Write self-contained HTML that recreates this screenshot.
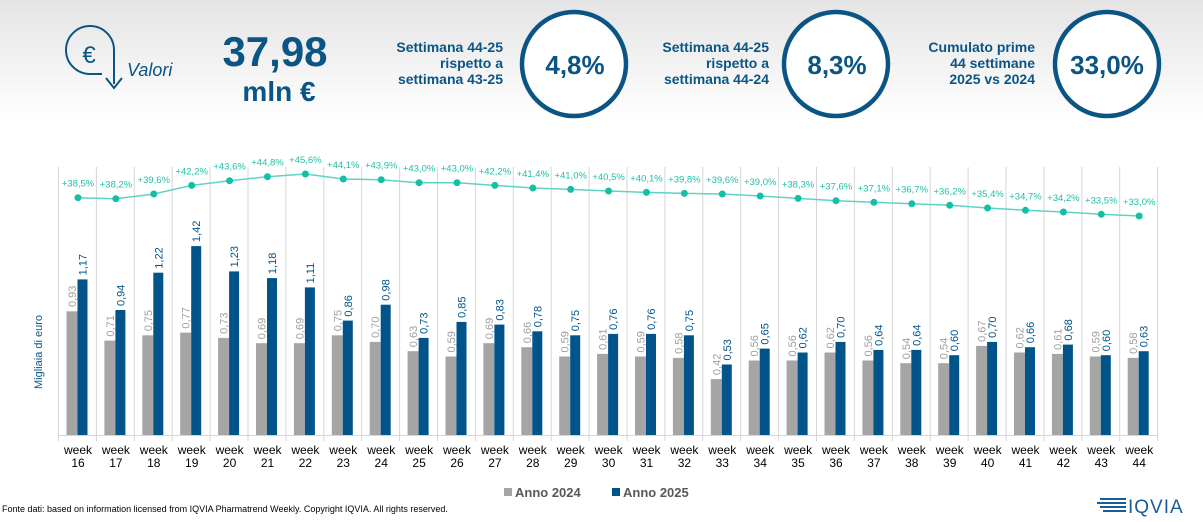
<!DOCTYPE html>
<html><head><meta charset="utf-8"><style>
html,body{margin:0;padding:0;background:#fff;}
body{width:1203px;height:517px;overflow:hidden;font-family:"Liberation Sans",sans-serif;}
</style></head><body>
<svg width="1203" height="517" viewBox="0 0 1203 517" xmlns="http://www.w3.org/2000/svg" font-family="Liberation Sans, sans-serif">
<defs><linearGradient id="hg" x1="0" y1="0" x2="0" y2="1"><stop offset="0" stop-color="#e4e4e4"/><stop offset="1" stop-color="#ffffff"/></linearGradient></defs>
<rect x="0" y="0" width="1203" height="120" fill="url(#hg)"/>
<g fill="none" stroke="#0b5585" stroke-width="2">
<path d="M114 84 L114 50 A24 24 0 1 0 90 74 L102 74"/>
<path d="M106 78 L114 88 L122 78"/>
</g>
<text x="89" y="63" font-size="24" fill="#0b5585" text-anchor="middle">€</text>
<text x="127" y="76" font-size="18" font-style="italic" fill="#0b5585">Valori</text>
<text x="275" y="66" font-size="42" font-weight="bold" fill="#0b5585" text-anchor="middle">37,98</text>
<text x="279" y="101" font-size="28" font-weight="bold" fill="#0b5585" text-anchor="middle">mln €</text>
<g font-size="14" font-weight="bold" fill="#0b5585" text-anchor="end">
<text x="503" y="52">Settimana 44-25</text><text x="503" y="68">rispetto a</text><text x="503" y="84">settimana 43-25</text>
<text x="769" y="52">Settimana 44-25</text><text x="769" y="68">rispetto a</text><text x="769" y="84">settimana 44-24</text>
<text x="1035" y="52">Cumulato prime</text><text x="1035" y="68">44 settimane</text><text x="1035" y="84">2025 vs 2024</text>
</g>
<g fill="#fff" stroke="#0b5585" stroke-width="4.5">
<circle cx="574" cy="64" r="52"/><circle cx="836" cy="64" r="52"/><circle cx="1107" cy="64" r="52"/>
</g>
<g font-size="26" font-weight="bold" fill="#0b5585" text-anchor="middle">
<text x="575" y="74">4,8%</text><text x="837" y="74">8,3%</text><text x="1107" y="74">33,0%</text>
</g>
<g stroke="#d6d6d6" stroke-width="1">
<path d="M58.5 167V441M96.4 167V441M134.3 167V441M172.2 167V441M210.1 167V441M248 167V441M285.9 167V441M323.8 167V441M361.7 167V441M399.6 167V441M437.5 167V441M475.4 167V441M513.3 167V441M551.2 167V441M589.1 167V441M627 167V441M664.9 167V441M702.8 167V441M740.7 167V441M778.6 167V441M816.5 167V441M854.4 167V441M892.3 167V441M930.2 167V441M968.1 167V441M1006 167V441M1043.9 167V441M1081.8 167V441M1119.7 167V441M1157.6 167V441"/>
<path d="M58.5 435.5H1157.6"/>
</g>
<g fill="#a5a5a5">
<rect x="66.5" y="311.3" width="11" height="123.7"/><rect x="104.4" y="340.6" width="11" height="94.4"/><rect x="142.3" y="335.3" width="11" height="99.7"/><rect x="180.2" y="332.6" width="11" height="102.4"/><rect x="218.1" y="337.9" width="11" height="97.1"/><rect x="256" y="343.2" width="11" height="91.8"/><rect x="293.9" y="343.2" width="11" height="91.8"/><rect x="331.8" y="335.3" width="11" height="99.7"/><rect x="369.7" y="341.9" width="11" height="93.1"/><rect x="407.6" y="351.2" width="11" height="83.8"/><rect x="445.5" y="356.5" width="11" height="78.5"/><rect x="483.4" y="343.2" width="11" height="91.8"/><rect x="521.3" y="347.2" width="11" height="87.8"/><rect x="559.2" y="356.5" width="11" height="78.5"/><rect x="597.1" y="353.9" width="11" height="81.1"/><rect x="635" y="356.5" width="11" height="78.5"/><rect x="672.9" y="357.9" width="11" height="77.1"/><rect x="710.8" y="379.1" width="11" height="55.9"/><rect x="748.7" y="360.5" width="11" height="74.5"/><rect x="786.6" y="360.5" width="11" height="74.5"/><rect x="824.5" y="352.5" width="11" height="82.5"/><rect x="862.4" y="360.5" width="11" height="74.5"/><rect x="900.3" y="363.2" width="11" height="71.8"/><rect x="938.2" y="363.2" width="11" height="71.8"/><rect x="976.1" y="345.9" width="11" height="89.1"/><rect x="1014" y="352.5" width="11" height="82.5"/><rect x="1051.9" y="353.9" width="11" height="81.1"/><rect x="1089.8" y="356.5" width="11" height="78.5"/><rect x="1127.7" y="357.9" width="11" height="77.1"/>
</g>
<g fill="#00548a">
<rect x="77.5" y="279.4" width="10" height="155.6"/><rect x="115.4" y="310" width="10" height="125"/><rect x="153.3" y="272.7" width="10" height="162.3"/><rect x="191.2" y="246.1" width="10" height="188.9"/><rect x="229.1" y="271.4" width="10" height="163.6"/><rect x="267" y="278.1" width="10" height="156.9"/><rect x="304.9" y="287.4" width="10" height="147.6"/><rect x="342.8" y="320.6" width="10" height="114.4"/><rect x="380.7" y="304.7" width="10" height="130.3"/><rect x="418.6" y="337.9" width="10" height="97.1"/><rect x="456.5" y="321.9" width="10" height="113.1"/><rect x="494.4" y="324.6" width="10" height="110.4"/><rect x="532.3" y="331.3" width="10" height="103.7"/><rect x="570.2" y="335.3" width="10" height="99.7"/><rect x="608.1" y="333.9" width="10" height="101.1"/><rect x="646" y="333.9" width="10" height="101.1"/><rect x="683.9" y="335.3" width="10" height="99.7"/><rect x="721.8" y="364.5" width="10" height="70.5"/><rect x="759.7" y="348.6" width="10" height="86.4"/><rect x="797.6" y="352.5" width="10" height="82.5"/><rect x="835.5" y="341.9" width="10" height="93.1"/><rect x="873.4" y="349.9" width="10" height="85.1"/><rect x="911.3" y="349.9" width="10" height="85.1"/><rect x="949.2" y="355.2" width="10" height="79.8"/><rect x="987.1" y="341.9" width="10" height="93.1"/><rect x="1025" y="347.2" width="10" height="87.8"/><rect x="1062.9" y="344.6" width="10" height="90.4"/><rect x="1100.8" y="355.2" width="10" height="79.8"/><rect x="1138.7" y="351.2" width="10" height="83.8"/>
</g>
<g font-size="11" fill="#a0a0a0">
<text transform="translate(76,307) rotate(-90)">0,93</text><text transform="translate(113.9,336.6) rotate(-90)">0,71</text><text transform="translate(151.8,331.3) rotate(-90)">0,75</text><text transform="translate(189.7,328.6) rotate(-90)">0,77</text><text transform="translate(227.6,333.9) rotate(-90)">0,73</text><text transform="translate(265.5,339.2) rotate(-90)">0,69</text><text transform="translate(303.4,339.2) rotate(-90)">0,69</text><text transform="translate(341.3,331.3) rotate(-90)">0,75</text><text transform="translate(379.2,337.9) rotate(-90)">0,70</text><text transform="translate(417.1,347.2) rotate(-90)">0,63</text><text transform="translate(455,352.5) rotate(-90)">0,59</text><text transform="translate(492.9,339.2) rotate(-90)">0,69</text><text transform="translate(530.8,343.2) rotate(-90)">0,66</text><text transform="translate(568.7,352.5) rotate(-90)">0,59</text><text transform="translate(606.6,349.9) rotate(-90)">0,61</text><text transform="translate(644.5,352.5) rotate(-90)">0,59</text><text transform="translate(682.4,353.9) rotate(-90)">0,58</text><text transform="translate(720.3,375.1) rotate(-90)">0,42</text><text transform="translate(758.2,356.5) rotate(-90)">0,56</text><text transform="translate(796.1,356.5) rotate(-90)">0,56</text><text transform="translate(834,348.5) rotate(-90)">0,62</text><text transform="translate(871.9,356.5) rotate(-90)">0,56</text><text transform="translate(909.8,359.2) rotate(-90)">0,54</text><text transform="translate(947.7,359.2) rotate(-90)">0,54</text><text transform="translate(985.6,341.9) rotate(-90)">0,67</text><text transform="translate(1023.5,348.5) rotate(-90)">0,62</text><text transform="translate(1061.4,349.9) rotate(-90)">0,61</text><text transform="translate(1099.3,352.5) rotate(-90)">0,59</text><text transform="translate(1137.2,353.9) rotate(-90)">0,58</text>
</g>
<g font-size="11" fill="#00548a">
<text transform="translate(86.5,275.4) rotate(-90)">1,17</text><text transform="translate(124.4,306) rotate(-90)">0,94</text><text transform="translate(162.3,268.7) rotate(-90)">1,22</text><text transform="translate(200.2,242.1) rotate(-90)">1,42</text><text transform="translate(238.1,267.4) rotate(-90)">1,23</text><text transform="translate(276,274.1) rotate(-90)">1,18</text><text transform="translate(313.9,283.4) rotate(-90)">1,11</text><text transform="translate(351.8,316.6) rotate(-90)">0,86</text><text transform="translate(389.7,300.7) rotate(-90)">0,98</text><text transform="translate(427.6,333.9) rotate(-90)">0,73</text><text transform="translate(465.5,317.9) rotate(-90)">0,85</text><text transform="translate(503.4,320.6) rotate(-90)">0,83</text><text transform="translate(541.3,327.3) rotate(-90)">0,78</text><text transform="translate(579.2,331.3) rotate(-90)">0,75</text><text transform="translate(617.1,329.9) rotate(-90)">0,76</text><text transform="translate(655,329.9) rotate(-90)">0,76</text><text transform="translate(692.9,331.3) rotate(-90)">0,75</text><text transform="translate(730.8,360.5) rotate(-90)">0,53</text><text transform="translate(768.7,344.6) rotate(-90)">0,65</text><text transform="translate(806.6,348.5) rotate(-90)">0,62</text><text transform="translate(844.5,337.9) rotate(-90)">0,70</text><text transform="translate(882.4,345.9) rotate(-90)">0,64</text><text transform="translate(920.3,345.9) rotate(-90)">0,64</text><text transform="translate(958.2,351.2) rotate(-90)">0,60</text><text transform="translate(996.1,337.9) rotate(-90)">0,70</text><text transform="translate(1034,343.2) rotate(-90)">0,66</text><text transform="translate(1071.9,340.6) rotate(-90)">0,68</text><text transform="translate(1109.8,351.2) rotate(-90)">0,60</text><text transform="translate(1147.7,347.2) rotate(-90)">0,63</text>
</g>
<polyline fill="none" stroke="#5fd3c3" stroke-width="1.5" points="78,197.7 115.9,198.7 153.8,194 191.7,185.4 229.6,180.7 267.5,176.7 305.4,174 343.3,179 381.2,179.7 419.1,182.7 457,182.7 494.9,185.4 532.8,188 570.7,189.4 608.6,191 646.5,192.4 684.4,193.4 722.3,194 760.2,196 798.1,198.4 836,200.7 873.9,202.3 911.8,203.7 949.7,205.3 987.6,208 1025.5,210.3 1063.4,212 1101.3,214.3 1139.2,216"/>
<g fill="#13bfa6">
<circle cx="78" cy="197.7" r="3.5"/><circle cx="115.9" cy="198.7" r="3.5"/><circle cx="153.8" cy="194" r="3.5"/><circle cx="191.7" cy="185.4" r="3.5"/><circle cx="229.6" cy="180.7" r="3.5"/><circle cx="267.5" cy="176.7" r="3.5"/><circle cx="305.4" cy="174" r="3.5"/><circle cx="343.3" cy="179" r="3.5"/><circle cx="381.2" cy="179.7" r="3.5"/><circle cx="419.1" cy="182.7" r="3.5"/><circle cx="457" cy="182.7" r="3.5"/><circle cx="494.9" cy="185.4" r="3.5"/><circle cx="532.8" cy="188" r="3.5"/><circle cx="570.7" cy="189.4" r="3.5"/><circle cx="608.6" cy="191" r="3.5"/><circle cx="646.5" cy="192.4" r="3.5"/><circle cx="684.4" cy="193.4" r="3.5"/><circle cx="722.3" cy="194" r="3.5"/><circle cx="760.2" cy="196" r="3.5"/><circle cx="798.1" cy="198.4" r="3.5"/><circle cx="836" cy="200.7" r="3.5"/><circle cx="873.9" cy="202.3" r="3.5"/><circle cx="911.8" cy="203.7" r="3.5"/><circle cx="949.7" cy="205.3" r="3.5"/><circle cx="987.6" cy="208" r="3.5"/><circle cx="1025.5" cy="210.3" r="3.5"/><circle cx="1063.4" cy="212" r="3.5"/><circle cx="1101.3" cy="214.3" r="3.5"/><circle cx="1139.2" cy="216" r="3.5"/>
</g>
<g font-size="9.5" fill="#1fc0a8" text-anchor="middle">
<text x="78" y="186.7">+38,5%</text><text x="115.9" y="187.7">+38,2%</text><text x="153.8" y="183">+39,6%</text><text x="191.7" y="174.4">+42,2%</text><text x="229.6" y="169.7">+43,6%</text><text x="267.5" y="165.7">+44,8%</text><text x="305.4" y="163">+45,6%</text><text x="343.3" y="168">+44,1%</text><text x="381.2" y="168.7">+43,9%</text><text x="419.1" y="171.7">+43,0%</text><text x="457" y="171.7">+43,0%</text><text x="494.9" y="174.4">+42,2%</text><text x="532.8" y="177">+41,4%</text><text x="570.7" y="178.4">+41,0%</text><text x="608.6" y="180">+40,5%</text><text x="646.5" y="181.4">+40,1%</text><text x="684.4" y="182.4">+39,8%</text><text x="722.3" y="183">+39,6%</text><text x="760.2" y="185">+39,0%</text><text x="798.1" y="187.4">+38,3%</text><text x="836" y="189.7">+37,6%</text><text x="873.9" y="191.3">+37,1%</text><text x="911.8" y="192.7">+36,7%</text><text x="949.7" y="194.3">+36,2%</text><text x="987.6" y="197">+35,4%</text><text x="1025.5" y="199.3">+34,7%</text><text x="1063.4" y="201">+34,2%</text><text x="1101.3" y="203.3">+33,5%</text><text x="1139.2" y="205">+33,0%</text>
</g>
<g font-size="12" fill="#000" text-anchor="middle">
<text x="78" y="454">week</text><text x="78" y="467">16</text>
<text x="115.9" y="454">week</text><text x="115.9" y="467">17</text>
<text x="153.8" y="454">week</text><text x="153.8" y="467">18</text>
<text x="191.7" y="454">week</text><text x="191.7" y="467">19</text>
<text x="229.6" y="454">week</text><text x="229.6" y="467">20</text>
<text x="267.5" y="454">week</text><text x="267.5" y="467">21</text>
<text x="305.4" y="454">week</text><text x="305.4" y="467">22</text>
<text x="343.3" y="454">week</text><text x="343.3" y="467">23</text>
<text x="381.2" y="454">week</text><text x="381.2" y="467">24</text>
<text x="419.1" y="454">week</text><text x="419.1" y="467">25</text>
<text x="457" y="454">week</text><text x="457" y="467">26</text>
<text x="494.9" y="454">week</text><text x="494.9" y="467">27</text>
<text x="532.8" y="454">week</text><text x="532.8" y="467">28</text>
<text x="570.7" y="454">week</text><text x="570.7" y="467">29</text>
<text x="608.6" y="454">week</text><text x="608.6" y="467">30</text>
<text x="646.5" y="454">week</text><text x="646.5" y="467">31</text>
<text x="684.4" y="454">week</text><text x="684.4" y="467">32</text>
<text x="722.3" y="454">week</text><text x="722.3" y="467">33</text>
<text x="760.2" y="454">week</text><text x="760.2" y="467">34</text>
<text x="798.1" y="454">week</text><text x="798.1" y="467">35</text>
<text x="836" y="454">week</text><text x="836" y="467">36</text>
<text x="873.9" y="454">week</text><text x="873.9" y="467">37</text>
<text x="911.8" y="454">week</text><text x="911.8" y="467">38</text>
<text x="949.7" y="454">week</text><text x="949.7" y="467">39</text>
<text x="987.6" y="454">week</text><text x="987.6" y="467">40</text>
<text x="1025.5" y="454">week</text><text x="1025.5" y="467">41</text>
<text x="1063.4" y="454">week</text><text x="1063.4" y="467">42</text>
<text x="1101.3" y="454">week</text><text x="1101.3" y="467">43</text>
<text x="1139.2" y="454">week</text><text x="1139.2" y="467">44</text>
</g>
<text transform="translate(42,352) rotate(-90)" font-size="11" fill="#0b5585" text-anchor="middle">Migliaia di euro</text>
<rect x="504" y="488" width="8" height="8" fill="#a5a5a5"/>
<text x="515" y="497" font-size="13" font-weight="bold" fill="#595959">Anno 2024</text>
<rect x="612" y="488" width="8" height="8" fill="#00548a"/>
<text x="623" y="497" font-size="13" font-weight="bold" fill="#595959">Anno 2025</text>
<text x="2" y="512" font-size="9" fill="#000">Fonte dati: based on information licensed from IQVIA Pharmatrend Weekly. Copyright IQVIA. All rights reserved.</text>
<g fill="#1a5b9a">
<rect x="1100" y="498" width="26" height="2"/><rect x="1097" y="502" width="29" height="2"/><rect x="1100" y="506" width="26" height="2"/><rect x="1103" y="510" width="23" height="2"/>
</g>
<text x="1128" y="513" font-size="19" fill="#1a5b9a" letter-spacing="1">IQVIA</text>
</svg>
</body></html>
